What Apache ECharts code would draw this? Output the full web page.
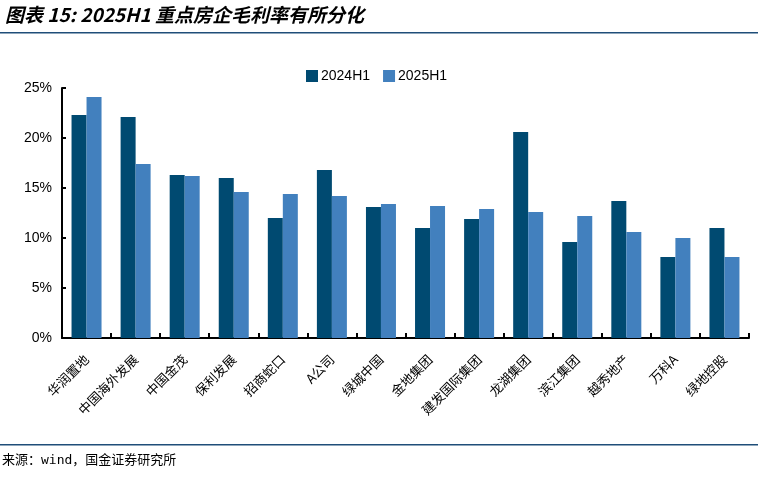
<!DOCTYPE html>
<html><head><meta charset="utf-8">
<script src="https://cdn.jsdelivr.net/npm/echarts@6/dist/echarts.min.js"></script>
<style>html,body{margin:0;padding:0;background:#fff;}#c{width:758px;height:478px;}</style>
</head><body><div id="c"></div>
<script>
const categories = ['华润置地','中国海外发展','中国金茂','保利发展','招商蛇口','A公司','绿城中国','金地集团','建发国际集团','龙湖集团','滨江集团','越秀地产','万科A','绿地控股'];
const seriesNames = ['2024H1','2025H1'];
const values2024 = [22.3,22.1,16.3,16.0,12.0,16.8,13.1,11.0,11.9,20.6,9.6,13.7,8.1,11.0];
const values2025 = [24.1,17.4,16.2,14.6,14.4,14.2,13.4,13.2,12.9,12.6,12.2,10.6,10.0,8.1];
const yTicks = [0,5,10,15,20,25];
const titleText = '图表 15: 2025H1 重点房企毛利率有所分化';
const sourceText = '来源：wind，国金证券研究所';

const chart = echarts.init(document.getElementById('c'), null, {renderer:'canvas'});
chart.setOption({
  animation:false,
  backgroundColor:'#fff',
  grid:{left:62,right:9,top:88,bottom:140,containLabel:false},
  legend:{
    left:306, top:69, padding:0, itemWidth:12, itemHeight:12, itemGap:13,
    icon:'rect',
    textStyle:{fontFamily:'Liberation Sans, Arial',fontSize:14,color:'#000',padding:[0,0,0,-2]},
    data:seriesNames
  },
  xAxis:{
    type:'category', data:categories,
    axisLine:{lineStyle:{color:'#000',width:2}},
    axisTick:{show:true,inside:true,length:5,lineStyle:{color:'#000',width:2}},
    axisLabel:{rotate:45,interval:0,fontFamily:'Noto Sans CJK SC',fontSize:13,color:'#000',margin:19}
  },
  yAxis:{
    type:'value', min:yTicks[0], max:yTicks[yTicks.length-1], interval:5,
    splitLine:{show:false},
    axisLine:{show:true,lineStyle:{color:'#000',width:2}},
    axisTick:{show:true,inside:true,length:4,lineStyle:{color:'#000',width:2}},
    axisLabel:{formatter:'{value}%',fontFamily:'Liberation Sans, Arial',fontSize:14,color:'#000',margin:10}
  },
  series:[
    {name:seriesNames[0],type:'bar',data:values2024,barWidth:15,barGap:'0%',itemStyle:{color:'#004A71'}},
    {name:seriesNames[1],type:'bar',data:values2025,barWidth:15,barGap:'0%',itemStyle:{color:'#4280BE'}}
  ],
  graphic:[
    {type:'text',left:5,top:5,style:{text:titleText,fontFamily:'Noto Sans CJK SC',fontSize:19,fontWeight:'bold',fontStyle:'italic',fill:'#000'}},
    {type:'rect',shape:{x:0,y:32,width:758,height:1.5},style:{fill:'#1F4E79'}},
    {type:'rect',shape:{x:0,y:444,width:758,height:1.5},style:{fill:'#1F4E79'}},
    {type:'text',left:2,top:454,style:{text:sourceText,fontFamily:'DejaVu Sans Mono, Noto Sans CJK SC',fontSize:13,fill:'#000'}}
  ]
});
</script></body></html>
